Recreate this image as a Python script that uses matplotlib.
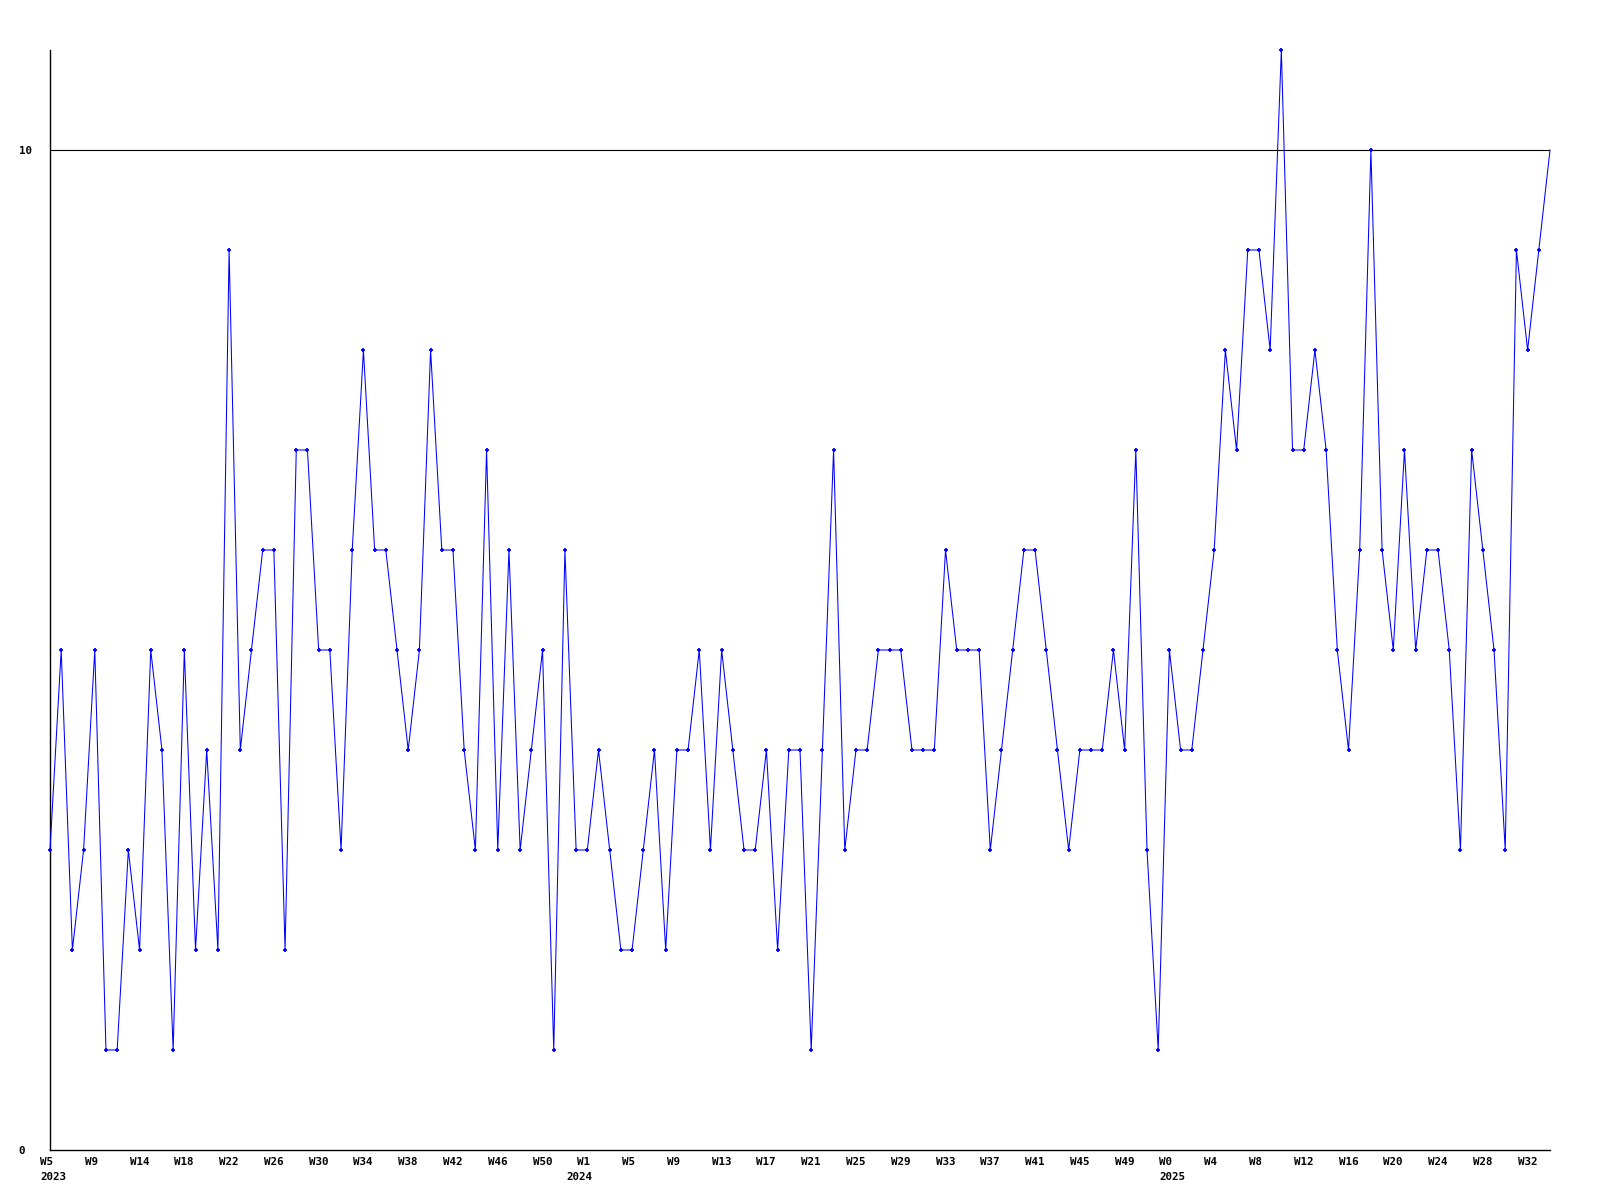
import matplotlib
matplotlib.use("Agg")
import matplotlib.pyplot as plt
import matplotlib.transforms as mtransforms

# ---- data ----
values = [3, 5, 2, 3, 5, 1, 1, 3, 2, 5,
          4, 1, 5, 2, 4, 2, 9, 4, 5, 6,
          6, 2, 7, 7, 5, 5, 3, 6, 8, 6,
          6, 5, 4, 5, 8, 6, 6, 4, 3, 7,
          3, 6, 3, 4, 5, 1, 6, 3, 3, 4,
          3, 2, 2, 3, 4, 2, 4, 4, 5, 3,
          5, 4, 3, 3, 4, 2, 4, 4, 1, 4,
          7, 3, 4, 4, 5, 5, 5, 4, 4, 4,
          6, 5, 5, 5, 3, 4, 5, 6, 6, 5,
          4, 3, 4, 4, 4, 5, 4, 7, 3, 1,
          5, 4, 4, 5, 6, 8, 7, 9, 9, 8,
          11, 7, 7, 8, 7, 5, 4, 6, 10, 6,
          5, 7, 5, 6, 6, 5, 3, 7, 6, 5,
          3, 9, 8, 9, 10]

week_labels = ["W5", "W9", "W14", "W18", "W22", "W26", "W30", "W34", "W38", "W42", "W46", "W50",
               "W1", "W5", "W9", "W13", "W17", "W21", "W25", "W29", "W33", "W37", "W41", "W45", "W49",
               "W0", "W4", "W8", "W12", "W16", "W20", "W24", "W28", "W32"]
week_label_step = 4
year_labels = ["2023", "2024", "2025"]
year_label_index = [0, 47, 100]
y_ticks = [0, 10]
y_tick_labels = ["0", "10"]
ref_line = 10

# ---- figure ----
W, H, DPI = 1600, 1200, 100
fig = plt.figure(figsize=(W / DPI, H / DPI), dpi=DPI, facecolor="white")
ax = fig.add_axes([50 / W, 50 / H, 1500 / W, 1100 / H])
ax.set_facecolor("white")

x = list(range(len(values)))
ax.plot(x, values, color="#0000ff", linewidth=0.75, marker="+", markersize=3,
        markeredgewidth=1.3, markevery=list(range(len(values) - 1)), clip_on=False, zorder=3)
ax.axhline(ref_line, color="black", linewidth=0.8, zorder=2)

ax.set_xlim(0, len(values) - 1)
ax.set_ylim(0, 11)

for side in ["top", "right"]:
    ax.spines[side].set_visible(False)
for side in ["left", "bottom"]:
    ax.spines[side].set_color("black")
    ax.spines[side].set_linewidth(1.0)

font = dict(family="DejaVu Sans Mono", weight="bold", size=7.8, color="black")

ax.set_xticks([])
ax.set_yticks(y_ticks)
ax.set_yticklabels(y_tick_labels, **font)
ax.tick_params(axis="y", length=0, pad=22.5)
for lab in ax.get_yticklabels():
    lab.set_horizontalalignment("left")

shift = mtransforms.ScaledTranslation(-10 / DPI, 0, fig.dpi_scale_trans)
tr = mtransforms.blended_transform_factory(ax.transData, fig.transFigure) + shift
for i, lab in enumerate(week_labels):
    ax.text(i * week_label_step, 38 / H, lab, transform=tr, ha="left", va="center",
            clip_on=False, **font)
for idx, lab in zip(year_label_index, year_labels):
    ax.text(idx, 22.5 / H, lab, transform=tr, ha="left", va="center", clip_on=False, **font)

fig.savefig("out.png", dpi=DPI, facecolor="white")
